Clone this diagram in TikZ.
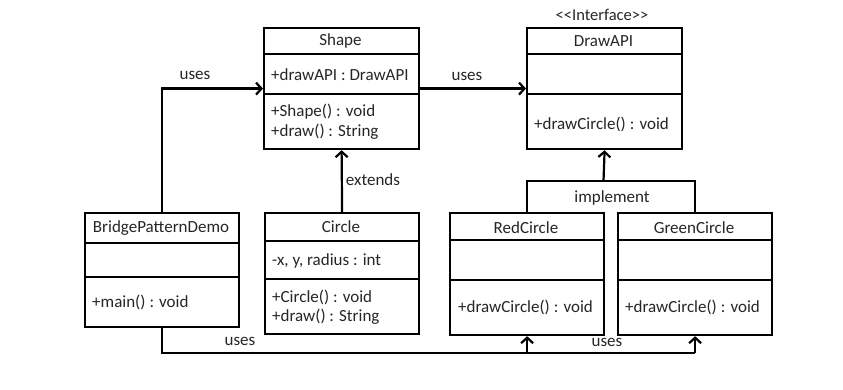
\documentclass[tikz,border=0pt]{standalone}
\usepackage{fontspec}
\setmainfont{Carlito}
\usetikzlibrary{arrows.meta}
\begin{document}
\begin{tikzpicture}[x=1pt,y=-1pt,
  cls/.style={draw, line width=2.2pt, anchor=north west, inner sep=0pt},
  txt/.style={font=\fontsize{17}{20}\selectfont, text=black!85, inner sep=0pt},
  lbl/.style={txt, anchor=west},
  conn/.style={line width=2.2pt},
  arr/.style={conn, -{Straight Barb[length=5.5pt,width=12pt,line width=2.2pt]}}]
\useasboundingbox[fill=white] (0,0) rectangle (843,390);

% ---- Shape
\node[cls, minimum width=155pt, minimum height=121pt] (shape) at (263,27) {};
\draw[conn] (shape.west |- 0,54) -- (shape.east |- 0,54);
\draw[conn] (shape.west |- 0,94) -- (shape.east |- 0,94);
\node[txt] (shapeT) at (340.5,41) {Shape};
\node[lbl] (shapeA) at (271,75) {+drawAPI : DrawAPI};
\node[lbl] (shapeM1) at (271,112) {+Shape()\hspace{4pt}: void};
\node[lbl] (shapeM2) at (271,132) {+draw() : String};

% ---- DrawAPI
\node[txt, font=\fontsize{16.5}{19}\selectfont] (iface) at (602,15) {<\kern0pt<Interface>\kern0pt>};
\node[cls, minimum width=155pt, minimum height=121pt] (api) at (526,27) {};
\draw[conn] (api.west |- 0,54) -- (api.east |- 0,54);
\draw[conn] (api.west |- 0,94) -- (api.east |- 0,94);
\node[txt] (apiT) at (603.5,41) {DrawAPI};
\node[lbl] (apiM) at (534,124) {+drawCircle()\hspace{4pt}: void};

% ---- BridgePatternDemo
\node[cls, minimum width=154pt, minimum height=114pt] (bpd) at (84,212) {};
\draw[conn] (bpd.west |- 0,243) -- (bpd.east |- 0,243);
\draw[conn] (bpd.west |- 0,277) -- (bpd.east |- 0,277);
\node[txt] (bpdT) at (161,228) {BridgePatternDemo};
\node[lbl] (bpdM) at (92,302) {+main()\hspace{4pt}: void};

% ---- Circle
\node[cls, minimum width=154pt, minimum height=121pt] (circle) at (264,212) {};
\draw[conn] (circle.west |- 0,241) -- (circle.east |- 0,241);
\draw[conn] (circle.west |- 0,279) -- (circle.east |- 0,279);
\node[txt] (circleT) at (341,227) {Circle};
\node[lbl] (circleA) at (272,261) {-x, y, radius : int};
\node[lbl] (circleM1) at (272,297) {+Circle()\hspace{4pt}: void};
\node[lbl] (circleM2) at (272,317) {+draw() : String};

% ---- RedCircle
\node[cls, minimum width=154pt, minimum height=122pt] (red) at (449,212) {};
\draw[conn] (red.west |- 0,240) -- (red.east |- 0,240);
\draw[conn] (red.west |- 0,280) -- (red.east |- 0,280);
\node[txt] (redT) at (526,228) {RedCircle};
\node[lbl] (redM) at (458,307) {+drawCircle()\hspace{4pt}: void};

% ---- GreenCircle
\node[cls, minimum width=154pt, minimum height=122pt] (green) at (617,212) {};
\draw[conn] (green.west |- 0,240) -- (green.east |- 0,240);
\draw[conn] (green.west |- 0,280) -- (green.east |- 0,280);
\node[txt] (greenT) at (694,228) {GreenCircle};
\node[lbl] (greenM) at (625,307) {+drawCircle()\hspace{4pt}: void};

% ---- connectors
\draw[arr] (bpd.north) |- (shape.west);
\node[txt] (uses1) at (195,75) {uses};
\draw[arr] (shape.east) -- (api.west);
\node[txt] (uses2) at (467,76) {uses};
\draw[arr] (circle.north) -- (shape.south);
\node[txt] (ext) at (373,180) {extends};

\coordinate (impl) at (603.5,181);
\draw[conn] (red.north) |- (impl) -| (green.north);
\draw[arr] (impl) -- (api.south);
\node[txt] (implT) at (612,198) {implement};

\coordinate (ub) at (161,353);
\draw[conn] (bpd.south) |- (green.south |- ub);
\draw[arr] (red.south |- ub) -- (red.south);
\draw[arr] (green.south |- ub) -- (green.south);
\node[txt] (uses3) at (240,341) {uses};
\node[txt] (uses4) at (607,342) {uses};
\end{tikzpicture}
\end{document}
